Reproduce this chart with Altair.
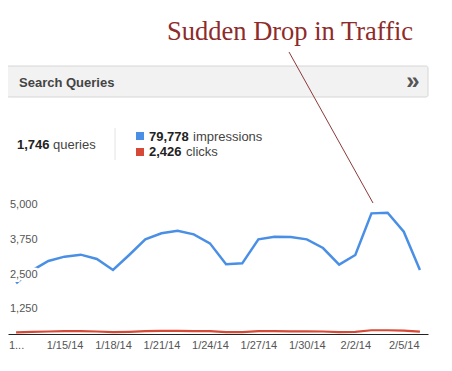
import altair as alt
import pandas as pd

# ---- data ----
dates = ["1/12/14", "1/13/14", "1/14/14", "1/15/14", "1/16/14", "1/17/14", "1/18/14",
         "1/19/14", "1/20/14", "1/21/14", "1/22/14", "1/23/14", "1/24/14", "1/25/14",
         "1/26/14", "1/27/14", "1/28/14", "1/29/14", "1/30/14", "1/31/14", "2/1/14",
         "2/2/14", "2/3/14", "2/4/14", "2/5/14", "2/6/14"]
impressions = [1823, 2290, 2626, 2782, 2854, 2698, 2302, 2842, 3405, 3621, 3717, 3585, 3261,
               2506, 2542, 3405, 3501, 3489, 3405, 3093, 2494, 2842, 4340, 4364, 3681, 2302]
clicks = [60, 75, 90, 100, 100, 90, 65, 80, 100, 110, 110, 105, 100, 70, 70, 105, 100, 95,
          95, 90, 70, 80, 135, 135, 120, 85]
y_ticks = [1250, 2500, 3750, 5000]
y_tick_labels = ["1,250", "2,500", "3,750", "5,000"]
x_tick_index = [0, 3, 6, 9, 12, 15, 18, 21, 24]
x_tick_labels = ["1...", "1/15/14", "1/18/14", "1/21/14", "1/24/14", "1/27/14", "1/30/14",
                 "2/2/14", "2/5/14"]

title_text = "Sudden Drop in Traffic"
panel_title = "Search Queries"
queries_total = "1,746"
impressions_total = "79,778"
clicks_total = "2,426"

BLUE = "#4a8fe6"
RED = "#d64937"
FONT = "Liberation Sans"

df = pd.DataFrame({"i": list(range(len(dates))), "date": dates,
                   "impressions": impressions, "clicks": clicks})

label_lookup = "{" + ",".join(f"'{v}':'{l}'" for v, l in zip(x_tick_index, x_tick_labels)) + "}"

xscale = alt.Scale(domain=[-0.5, len(dates) - 0.5], nice=False, zero=False)
yscale = alt.Scale(domain=[0, 5000], nice=False)

base = alt.Chart(df)

blue = base.mark_line(color=BLUE, strokeWidth=2.5).encode(
    x=alt.X("i:Q", scale=xscale,
            axis=alt.Axis(values=x_tick_index, labelExpr=f"{label_lookup}[''+datum.value]",
                          title=None, grid=False, ticks=False, tickSize=0, labelPadding=5,
                          domainColor="#222", domainWidth=1, labelFont=FONT, labelFontSize=11,
                          labelColor="#555", labelFlush=False, labelOverlap=False)),
    y=alt.Y("impressions:Q", scale=yscale,
            axis=alt.Axis(values=[0] + y_ticks, labels=False, ticks=False, domain=False,
                          grid=True, gridColor="#cccccc", gridWidth=1, title=None)),
)
red = base.mark_line(color=RED, strokeWidth=2.2).encode(
    x=alt.X("i:Q", scale=xscale),
    y=alt.Y("clicks:Q", scale=yscale),
)

ydf = pd.DataFrame({"v": y_ticks, "lab": y_tick_labels})
ylab_halo = alt.Chart(ydf).mark_text(align="left", baseline="alphabetic", dy=13, font=FONT,
                                     fontSize=11, stroke="white", strokeWidth=5,
                                     fill="white").encode(
    x=alt.value(2), y=alt.Y("v:Q", scale=yscale, axis=None), text="lab:N")
ylab = alt.Chart(ydf).mark_text(align="left", baseline="alphabetic", dy=13, font=FONT,
                                fontSize=11, color="#555").encode(
    x=alt.value(2), y=alt.Y("v:Q", scale=yscale, axis=None), text="lab:N")


def txt(text, x, y, **kw):
    return alt.Chart(pd.DataFrame({"t": [text]})).mark_text(**kw).encode(
        x=alt.value(x), y=alt.value(y), text="t:N")


one = pd.DataFrame({"a": [0]})

header = alt.Chart(one).mark_rect(fill="#f2f2f2", stroke="#d6d6d6", strokeWidth=1,
                                  cornerRadius=2).encode(
    x=alt.value(-1), x2=alt.value(420), y=alt.value(-129), y2=alt.value(-98))
header_txt = txt(panel_title, 11, -108, align="left", baseline="alphabetic", font=FONT,
                 fontSize=13, fontWeight="bold", color="#444")
chevron = txt("»", 405, -113, align="center", baseline="middle", font=FONT,
              fontSize=24, fontWeight="bold", color="#555")

sep = alt.Chart(one).mark_rule(color="#e3e3e3", strokeWidth=1).encode(
    x=alt.value(107), y=alt.value(-67), y2=alt.value(-35))

q_num = txt(queries_total, 9, -46, align="left", baseline="alphabetic", font=FONT,
            fontSize=13, fontWeight="bold", color="#222")
q_word = txt("queries", 45, -46, align="left", baseline="alphabetic", font=FONT,
             fontSize=13, color="#444")

sq_blue = alt.Chart(one).mark_rect(fill=BLUE).encode(
    x=alt.value(128), x2=alt.value(136), y=alt.value(-63), y2=alt.value(-55))
sq_red = alt.Chart(one).mark_rect(fill=RED).encode(
    x=alt.value(128), x2=alt.value(136), y=alt.value(-47), y2=alt.value(-39))
i_num = txt(impressions_total, 141, -54, align="left", baseline="alphabetic", font=FONT,
            fontSize=13, fontWeight="bold", color="#222")
i_word = txt("impressions", 185, -54, align="left", baseline="alphabetic", font=FONT,
             fontSize=13, color="#444")
c_num = txt(clicks_total, 141, -39, align="left", baseline="alphabetic", font=FONT,
            fontSize=13, fontWeight="bold", color="#222")
c_word = txt("clicks", 178, -39, align="left", baseline="alphabetic", font=FONT,
             fontSize=13, color="#444")

title = txt(title_text, 159, -155.5, align="left", baseline="alphabetic",
            font="Liberation Serif", fontSize=26.5, color="#8e2b2b")
arrow = alt.Chart(one).mark_rule(color="#8b3a3a", strokeWidth=1).encode(
    x=alt.value(281), x2=alt.value(365), y=alt.value(-143), y2=alt.value(8))

chart = alt.layer(
    blue, red, ylab_halo, ylab, header, header_txt, chevron, sep, q_num, q_word,
    sq_blue, sq_red, i_num, i_word, c_num, c_word, title, arrow
).properties(
    width=420, height=139,
    padding={"left": 0, "top": 187, "right": 16, "bottom": 28},
    autosize=alt.AutoSizeParams(type="none"),
    background="white",
).configure_view(stroke=None)

chart.save("out.html", embed_options={"renderer": "svg", "actions": False})
